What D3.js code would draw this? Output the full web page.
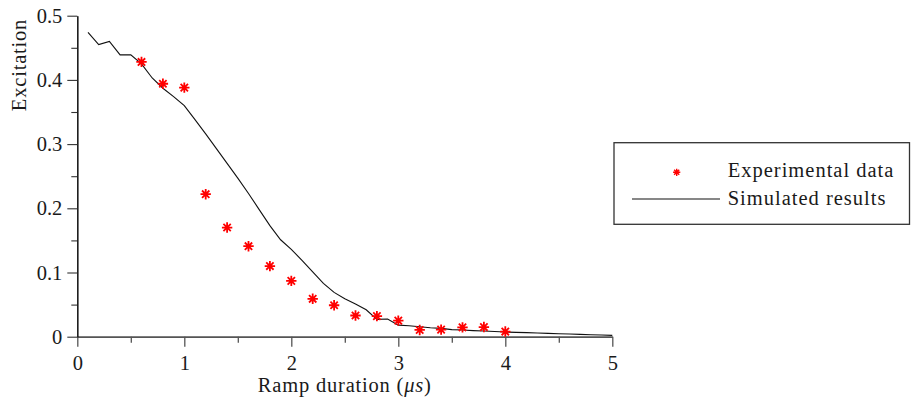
<!DOCTYPE html>
<html>
<head>
<meta charset="utf-8">
<script src="https://cdn.jsdelivr.net/npm/d3@7"></script>
<style>
  html, body { margin: 0; padding: 0; background: #fff; }
  svg { display: block; }
</style>
</head>
<body>
<svg id="chart" width="911" height="404"></svg>
<script>
// Measured excitation vs. ramp duration (microseconds)
const expRamp = [0.6, 0.8, 1.0, 1.2, 1.4, 1.6, 1.8, 2.0, 2.2, 2.4, 2.6, 2.8, 3.0, 3.2, 3.4, 3.6, 3.8, 4.0];
const expExcitation = [0.428, 0.394, 0.388, 0.222, 0.170, 0.141, 0.110, 0.087, 0.059, 0.049, 0.033, 0.032, 0.025, 0.0105, 0.011, 0.0146, 0.015, 0.008];

// Simulated excitation curve
const simRamp = [0.1, 0.2, 0.3, 0.4, 0.5, 0.6, 0.7, 0.8, 0.9, 1.0,
                 1.1, 1.2, 1.3, 1.4, 1.5, 1.6, 1.7, 1.8, 1.9, 2.0,
                 2.1, 2.2, 2.3, 2.4, 2.5, 2.6, 2.7, 2.8, 2.9, 3.0,
                 3.1, 3.2, 3.3, 3.4, 3.5, 3.6, 3.7, 3.8, 3.9, 4.0,
                 4.1, 4.2, 4.3, 4.4, 4.5, 4.6, 4.7, 4.8, 4.9, 5.0];
const simExcitation = [0.474, 0.455, 0.460, 0.439, 0.439, 0.425, 0.403, 0.387, 0.374, 0.360,
                       0.338, 0.316, 0.293, 0.270, 0.247, 0.223, 0.198, 0.173, 0.151, 0.136,
                       0.119, 0.101, 0.083, 0.069, 0.059, 0.051, 0.042, 0.027, 0.0275, 0.018,
                       0.017, 0.0156, 0.014, 0.013, 0.011, 0.0105, 0.0095, 0.0088, 0.008, 0.0073,
                       0.0068, 0.0063, 0.0058, 0.0052, 0.0047, 0.0042, 0.0036, 0.0031, 0.0026, 0.0021];

const xMajorTicks = [0, 1, 2, 3, 4, 5];
const xMinorTicks = [0.5, 1.5, 2.5, 3.5, 4.5];
const yMajorTicks = [0, 0.1, 0.2, 0.3, 0.4, 0.5];
const yMinorTicks = [0.05, 0.15, 0.25, 0.35, 0.45];
const yTickLabels = ["0", "0.1", "0.2", "0.3", "0.4", "0.5"];

const legendLabels = ["Experimental data", "Simulated results"];
const xTitleText = "Ramp duration (";
const xTitleUnit = "\u03BCs";
const yTitle = "Excitation";

const SERIF = "'Liberation Serif', 'Times New Roman', serif";
const FONT = 20.5;
const INK = "#1a1a1a";

const svg = d3.select("#chart");

const x = d3.scaleLinear().domain([0, 5]).range([77.3, 612.3]);
const y = d3.scaleLinear().domain([0, 0.5]).range([336.7, 15.7]);

function styleText(sel, spacing) {
  sel.style("font-family", SERIF)
     .style("font-size", FONT + "px")
     .style("letter-spacing", (spacing || 0) + "px")
     .attr("fill", INK);
}

// ---- axes ----
const xAxisG = svg.append("g").attr("transform", `translate(0,${y(0)})`);
xAxisG.append("g")
  .call(d3.axisBottom(x).tickValues(xMinorTicks).tickSize(6).tickSizeOuter(0).tickFormat(""));
xAxisG.append("g")
  .call(d3.axisBottom(x).tickValues(xMajorTicks).tickSize(10).tickSizeOuter(0).tickPadding(9)
        .tickFormat(d3.format("d")));
xAxisG.selectAll(".domain").attr("stroke", "#555").attr("stroke-width", 1.6);
xAxisG.selectAll(".tick line").attr("stroke", "#555").attr("stroke-width", 1.3);
styleText(xAxisG.selectAll(".tick text"));

const yAxisG = svg.append("g").attr("transform", `translate(${x(0)},0)`);
yAxisG.append("g")
  .call(d3.axisLeft(y).tickValues(yMinorTicks).tickSize(6).tickSizeOuter(0).tickFormat(""));
yAxisG.append("g")
  .call(d3.axisLeft(y).tickValues(yMajorTicks).tickSize(10).tickSizeOuter(0).tickPadding(5)
        .tickFormat((d, i) => yTickLabels[i]));
yAxisG.selectAll(".domain").attr("stroke", "#111").attr("stroke-width", 1.1);
yAxisG.selectAll(".tick line").attr("stroke", "#333").attr("stroke-width", 1.1);
styleText(yAxisG.selectAll(".tick text"));

// axis titles
const xTitle = svg.append("text")
  .attr("x", (x(0) + x(5)) / 2)
  .attr("y", 392)
  .attr("text-anchor", "middle");
styleText(xTitle, 0.8);
xTitle.append("tspan").text(xTitleText);
xTitle.append("tspan").style("font-style", "italic").text(xTitleUnit);
xTitle.append("tspan").text(")");

const yTitleEl = svg.append("text")
  .attr("transform", `translate(26,65) rotate(-90)`)
  .attr("text-anchor", "middle")
  .text(yTitle);
styleText(yTitleEl, 0.8);

// ---- simulated curve ----
const simData = simRamp.map((r, i) => ({ r, v: simExcitation[i] }));
svg.append("path")
  .datum(simData)
  .attr("fill", "none")
  .attr("stroke", "#111")
  .attr("stroke-width", 1.1)
  .attr("d", d3.line().x(d => x(d.r)).y(d => y(d.v)));

// ---- experimental markers (asterisks) ----
function asterisk(r) {
  const d = r * Math.SQRT1_2;
  return `M${-r},0L${r},0M0,${-r}L0,${r}M${-d},${-d}L${d},${d}M${-d},${d}L${d},${-d}`;
}
const expData = expRamp.map((r, i) => ({ r, v: expExcitation[i] }));
svg.append("g")
  .selectAll("path")
  .data(expData)
  .join("path")
  .attr("transform", d => `translate(${x(d.r)},${y(d.v)})`)
  .attr("d", asterisk(5.2))
  .attr("fill", "none")
  .attr("stroke", "#ff0000")
  .attr("stroke-width", 1.8);

// ---- legend ----
const legend = svg.append("g");
legend.append("rect")
  .attr("x", 614).attr("y", 142.7)
  .attr("width", 295.5).attr("height", 81.6)
  .attr("fill", "#fff")
  .attr("stroke", "#333")
  .attr("stroke-width", 1.3);
legend.append("path")
  .attr("transform", "translate(676.7,172.3)")
  .attr("d", asterisk(3.6))
  .attr("fill", "none")
  .attr("stroke", "#ff0000")
  .attr("stroke-width", 1.4);
legend.append("line")
  .attr("x1", 632).attr("x2", 720)
  .attr("y1", 199).attr("y2", 199)
  .attr("stroke", "#111").attr("stroke-width", 1.1);
const legendText = legend.selectAll("text.lbl")
  .data(legendLabels)
  .join("text")
  .attr("class", "lbl")
  .attr("x", 727.7)
  .attr("y", (d, i) => 177 + i * 28)
  .text(d => d);
styleText(legendText, 1.0);
</script>
</body>
</html>
